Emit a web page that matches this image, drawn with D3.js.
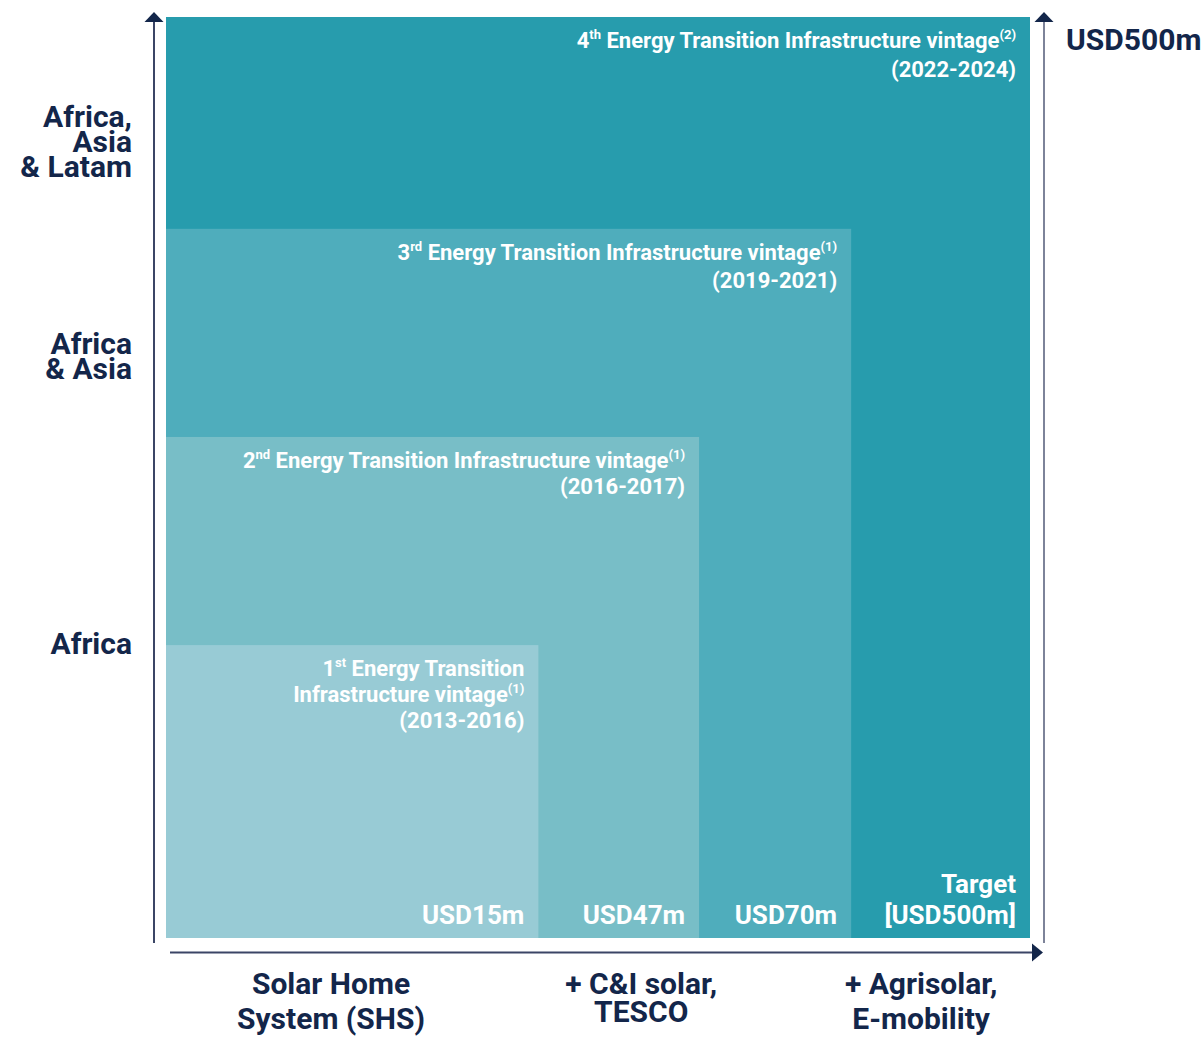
<!DOCTYPE html>
<html>
<head>
<meta charset="utf-8">
<script src="https://cdn.jsdelivr.net/npm/d3@7"></script>
<style>
  html, body { margin: 0; padding: 0; background: #ffffff; }
  svg { display: block; font-family: Roboto, "Open Sans", sans-serif; }
</style>
</head>
<body>
<svg id="chart" width="1204" height="1037"></svg>
<script>
// Vintages of the Energy Transition Infrastructure programme, oldest first.
const vintages = ["1", "2", "3", "4"];
const ordinalSuffix = ["st", "nd", "rd", "th"];
const vintageNotes = ["(1)", "(1)", "(1)", "(2)"];
const vintagePeriods = ["(2013-2016)", "(2016-2017)", "(2019-2021)", "(2022-2024)"];
const vintageSizes = ["USD15m", "USD47m", "USD70m", "[USD500m]"];
// Relative breadth of technology scope (x) and geographic reach (y), 0-100.
const techScope = [43.1, 61.7, 79.3, 100];
const geoReach = [31.8, 54.4, 77.0, 100];
const fills = ["#98cbd5", "#78bec7", "#4fadbc", "#279cad"];

const regionLabels = [["Africa"], ["Africa", "& Asia"], ["Africa,", "Asia", "& Latam"]];
const regionLabelPos = [32.0, 63.2, 86.5];
const techLabels = [["Solar Home", "System (SHS)"], ["+ C&I solar,", "TESCO"], ["+ Agrisolar,", "E-mobility"]];
const techLabelPos = [19.1, 55.0, 87.4];
const targetLabel = "USD500m";

const navy = "#13264a";
const svg = d3.select("#chart");

const x = d3.scaleLinear().domain([0, 100]).range([166, 1030]);
const y = d3.scaleLinear().domain([0, 100]).range([938, 17]);

// Nested rectangles, largest drawn first so smaller ones sit on top.
const rows = vintages.map((v, i) => ({
  v, i, suffix: ordinalSuffix[i], note: vintageNotes[i],
  period: vintagePeriods[i], size: vintageSizes[i],
  tx: techScope[i], gy: geoReach[i], fill: fills[i]
}));
const ordered = rows.slice().reverse();

svg.append("g").selectAll("rect")
  .data(ordered)
  .join("rect")
  .attr("x", x(0))
  .attr("y", d => y(d.gy))
  .attr("width", d => x(d.tx) - x(0))
  .attr("height", d => y(0) - y(d.gy))
  .attr("fill", d => d.fill);

// Vintage titles in the top-right corner of each rectangle.
const pad = 14;
const titles = svg.append("g").attr("fill", "#ffffff").attr("font-weight", 700)
  .attr("text-anchor", "end");

function titleLine(g, xp, yp, parts) {
  const t = g.append("text").attr("x", xp).attr("y", yp).attr("font-size", 22);
  let shift = 0;
  parts.forEach(p => {
    if (p.sup) {
      t.append("tspan").attr("font-size", 13).attr("dy", -9 - shift).text(p.text);
      shift = -9;
    } else {
      t.append("tspan").attr("dy", -shift).text(p.text);
      shift = 0;
    }
  });
}

rows.forEach(d => {
  const xr = x(d.tx) - pad;
  const top = y(d.gy);
  const base = top + 31;
  if (d.i === 0) {
    titleLine(titles, xr, base, [{text: d.v}, {text: d.suffix, sup: true}, {text: " Energy Transition"}]);
    titleLine(titles, xr, base + 26, [{text: "Infrastructure vintage"}, {text: d.note, sup: true}]);
    titleLine(titles, xr, base + 52, [{text: d.period}]);
  } else {
    const gap = d.i === 1 ? 26 : 28.5;
    titleLine(titles, xr, base, [{text: d.v}, {text: d.suffix, sup: true},
      {text: " Energy Transition Infrastructure vintage"}, {text: d.note, sup: true}]);
    titleLine(titles, xr, base + gap, [{text: d.period}]);
  }
});

// Fund size in the bottom-right corner of each rectangle.
const sizes = svg.append("g").attr("fill", "#ffffff").attr("font-weight", 700)
  .attr("text-anchor", "end").attr("font-size", 26);
rows.forEach(d => {
  const xr = x(d.tx) - pad;
  sizes.append("text").attr("x", xr).attr("y", y(0) - 14).text(d.size);
  if (d.i === 3) {
    sizes.append("text").attr("x", xr).attr("y", y(0) - 45).text("Target");
  }
});

// Axes drawn as arrows.
const axes = svg.append("g");
function arrowHead(points) {
  axes.append("path").attr("d", "M" + points.map(p => p.join(",")).join("L") + "Z")
    .attr("fill", navy);
}
axes.append("line").attr("x1", 154).attr("x2", 154).attr("y1", 943).attr("y2", 20)
  .attr("stroke", "#3b4566").attr("stroke-width", 2);
arrowHead([[144.5, 22], [154, 12], [163.5, 22]]);

axes.append("line").attr("x1", 1044).attr("x2", 1044).attr("y1", 943).attr("y2", 20)
  .attr("stroke", "#7d8399").attr("stroke-width", 2);
arrowHead([[1034.5, 22], [1044, 12], [1053.5, 22]]);

axes.append("line").attr("x1", 170).attr("x2", 1034).attr("y1", 952.5).attr("y2", 952.5)
  .attr("stroke", "#3b4566").attr("stroke-width", 2);
arrowHead([[1032, 943.5], [1043, 952.5], [1032, 961.5]]);

// Geographic reach labels on the left.
const regions = svg.append("g").attr("fill", navy).attr("font-weight", 700)
  .attr("font-size", 30).attr("text-anchor", "end");
regionLabels.forEach((lines, i) => {
  const cy = y(regionLabelPos[i]);
  const lh = 25;
  const first = cy - (lines.length - 1) * lh / 2;
  lines.forEach((ln, j) => {
    regions.append("text").attr("x", 132).attr("y", first + j * lh + 10.5).text(ln);
  });
});

// Technology labels under the x axis.
const techs = svg.append("g").attr("fill", navy).attr("font-weight", 700)
  .attr("font-size", 30).attr("text-anchor", "middle");
techLabels.forEach((lines, i) => {
  const gap = i === 1 ? 28 : 35;
  lines.forEach((ln, j) => {
    techs.append("text").attr("x", x(techLabelPos[i])).attr("y", 994 + j * gap).text(ln);
  });
});

// Target label at the top of the right axis.
svg.append("text").attr("x", 1066).attr("y", 50).attr("fill", navy)
  .attr("font-weight", 700).attr("font-size", 30).text(targetLabel);
</script>
</body>
</html>
